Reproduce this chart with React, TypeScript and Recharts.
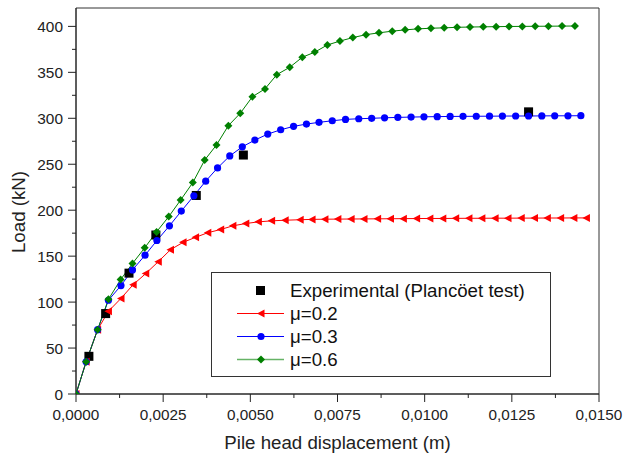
import {
  ComposedChart,
  Label,
  Legend,
  Line,
  ReferenceArea,
  Scatter,
  XAxis,
  YAxis
} from "recharts";

const FONT = "'Liberation Sans', Arial, sans-serif";

// experimental points (Plancoet test)
const expX = [0.00037, 0.00085, 0.00152, 0.00229, 0.00345, 0.0048, 0.01298];
const expY = [41, 87.5, 131.5, 173, 216, 260, 307];

// mu = 0.2
const mu02X = [
  0, 0.00029, 0.00062, 0.00093, 0.00129, 0.00164, 0.002, 0.00236, 0.00271, 0.00307,
  0.00343, 0.00378, 0.00415, 0.0045, 0.00487, 0.00523, 0.00561, 0.006, 0.00643, 0.00677,
  0.00714, 0.00751, 0.00789, 0.00826, 0.00865, 0.00902, 0.00939, 0.00977, 0.01015, 0.01052,
  0.01089, 0.01127, 0.01164, 0.01202, 0.01239, 0.01277, 0.01315, 0.01352, 0.0139, 0.01428,
  0.01464
];
const mu02Y = [
  0, 35, 70, 90, 104, 119, 131, 144, 157, 165,
  170.5, 175.5, 179, 183, 185.5, 187.3, 188.4, 189.1, 189.6, 190,
  190.2, 190.3, 190.4, 190.5, 190.6, 190.7, 190.8, 190.9, 191, 191,
  191.1, 191.2, 191.2, 191.3, 191.3, 191.4, 191.4, 191.5, 191.5, 191.6,
  191.6
];

// mu = 0.3
const mu03X = [
  0, 0.00029, 0.00062, 0.00093, 0.00129, 0.00162, 0.00198, 0.00232, 0.00268, 0.00302,
  0.00338, 0.00372, 0.00406, 0.00441, 0.00477, 0.00513, 0.0055, 0.00587, 0.00624, 0.00661,
  0.00697, 0.00735, 0.00773, 0.00811, 0.00848, 0.00885, 0.00923, 0.00961, 0.00998, 0.01036,
  0.01073, 0.0111, 0.01148, 0.01186, 0.01223, 0.01261, 0.01298, 0.01336, 0.01373, 0.01411,
  0.01448
];
const mu03Y = [
  0, 35, 70, 102, 118, 135, 151, 167, 183, 199,
  215.6, 231.6, 246, 259, 269, 276.3, 282.8, 287.5, 291.2, 293.7,
  295.6, 297.3, 298.8, 299.5, 300, 300.5, 301, 301.3, 301.6, 301.8,
  302, 302.1, 302.2, 302.3, 302.4, 302.5, 302.5, 302.6, 302.7, 302.7,
  302.8
];

// mu = 0.6
const mu06X = [
  0, 0.00029, 0.00062, 0.00093, 0.00128, 0.00162, 0.00197, 0.00231, 0.00266, 0.003,
  0.00335, 0.00369, 0.00403, 0.00437, 0.00471, 0.00506, 0.00542, 0.00576, 0.00613, 0.00649,
  0.00685, 0.00721, 0.00757, 0.00794, 0.00832, 0.00869, 0.00907, 0.00944, 0.00981, 0.01018,
  0.01056, 0.01093, 0.0113, 0.01168, 0.01205, 0.01242, 0.0128, 0.01317, 0.01355, 0.01394,
  0.01431
];
const mu06Y = [
  0, 35, 70, 103, 124.5, 142, 159, 176.4, 193, 211,
  230, 254.5, 271, 292, 305.4, 323.5, 332, 347.5, 355.5, 366.4,
  372, 379.8, 384, 387.8, 391, 393, 394.8, 396.2, 397.3, 398,
  398.4, 399, 399.3, 399.5, 399.7, 399.9, 400, 400.1, 400.2, 400.3,
  400.4
];

const xTicks = [
  0, 0.00125, 0.0025, 0.00375, 0.005, 0.00625, 0.0075, 0.00875, 0.01, 0.01125, 0.0125,
  0.01375, 0.015
];
const yTicks = [
  0, 25, 50, 75, 100, 125, 150, 175, 200, 225, 250, 275, 300, 325, 350, 375, 400
];

const legendNames = ["Experimental (Plancöet test)", "μ=0.2", "μ=0.3", "μ=0.6"];

const zip = (xs: number[], ys: number[]) => xs.map((x, i) => ({ x, y: ys[i] }));

const expData = zip(expX, expY);
const red = zip(mu02X, mu02Y);
const blue = zip(mu03X, mu03Y);
const green = zip(mu06X, mu06Y);

const fmtX = (v: number) => v.toFixed(4).replace(".", ",");

function XTick(props: any) {
  const { x, y, payload } = props;
  const major = Math.round(payload.value / 0.00125) % 2 === 0;
  return (
    <g>
      <line x1={x} y1={y} x2={x} y2={y + (major ? 8 : 4)} stroke="#222" />
      {major && (
        <text x={x} y={y + 26} textAnchor="middle" fontSize={15.3} fill="#222" fontFamily={FONT}>
          {fmtX(payload.value)}
        </text>
      )}
    </g>
  );
}

function YTick(props: any) {
  const { x, y, payload } = props;
  const major = payload.value % 50 === 0;
  return (
    <g>
      <line x1={x} y1={y} x2={x - (major ? 8 : 4)} y2={y} stroke="#222" />
      {major && (
        <text x={x - 13} y={y} dy="0.36em" textAnchor="end" fontSize={15.4} fill="#222" fontFamily={FONT}>
          {payload.value}
        </text>
      )}
    </g>
  );
}

function Tri({ cx, cy, fill }: { cx: number; cy: number; fill: string }) {
  return <polygon points={`${cx - 4},${cy} ${cx + 3.5},${cy - 4} ${cx + 3.5},${cy + 4}`} fill={fill} />;
}

function Diamond({ cx, cy, fill }: { cx: number; cy: number; fill: string }) {
  return <polygon points={`${cx},${cy - 4} ${cx + 4},${cy} ${cx},${cy + 4} ${cx - 4},${cy}`} fill={fill} />;
}

const redDot = (p: any) => <Tri key={p.index} cx={p.cx} cy={p.cy} fill="#ff0000" />;
const blueDot = (p: any) => <circle key={p.index} cx={p.cx} cy={p.cy} r={3.6} fill="#0000ff" />;
const greenDot = (p: any) => <Diamond key={p.index} cx={p.cx} cy={p.cy} fill="#008000" />;
const squareShape = (p: any) => (
  <rect x={p.cx - 4.5} y={p.cy - 4.5} width={9} height={9} fill="#000" />
);

function LegendBox() {
  const icons = [
    <rect x={44} y={7} width={9} height={9} fill="#000" />,
    <g>
      <line x1={25} y1={11.5} x2={72} y2={11.5} stroke="#ff0000" />
      <Tri cx={49} cy={11.5} fill="#ff0000" />
    </g>,
    <g>
      <line x1={25} y1={11.5} x2={72} y2={11.5} stroke="#0000ff" />
      <circle cx={49} cy={11.5} r={3.6} fill="#0000ff" />
    </g>,
    <g>
      <line x1={25} y1={11.5} x2={72} y2={11.5} stroke="#008000" strokeWidth={1.5} strokeOpacity={0.6} />
      <Diamond cx={49} cy={11.5} fill="#008000" />
    </g>
  ];
  return (
    <div
      style={{
        width: 340,
        height: 105,
        boxSizing: "border-box",
        border: "1px solid #333",
        background: "#fff",
        paddingTop: 6,
        fontFamily: FONT,
        fontSize: 18.7,
        color: "#111"
      }}
    >
      {legendNames.map((name, i) => (
        <div key={name} style={{ display: "flex", alignItems: "center", height: 23 }}>
          <svg width={78} height={23} style={{ flex: "none" }}>
            {icons[i]}
          </svg>
          <span style={{ lineHeight: "23px", whiteSpace: "nowrap" }}>{name}</span>
        </div>
      ))}
    </div>
  );
}

export default function App() {
  return (
    <div style={{ position: "absolute", left: 0, top: 0, background: "#fff" }}>
      <ComposedChart
        width={624}
        height={458}
        margin={{ top: 8, right: 25, bottom: 24, left: 16 }}
      >
        <XAxis
          xAxisId="main"
          type="number"
          dataKey="x"
          domain={[0, 0.015]}
          ticks={xTicks}
          interval={0}
          height={40}
          tickSize={0}
          tickMargin={0}
          tickLine={false}
          tick={<XTick />}
          axisLine={{ stroke: "#222" }}
          allowDataOverflow
        >
          <Label
            content={(p: any) => (
              <text
                x={p.viewBox.x + p.viewBox.width / 2}
                y={p.viewBox.y + 55}
                textAnchor="middle"
                fontSize={18.7}
                fill="#222"
                fontFamily={FONT}
              >
                Pile head displacement (m)
              </text>
            )}
          />
        </XAxis>
        <YAxis
          yAxisId="main"
          type="number"
          domain={[0, 420]}
          ticks={yTicks}
          interval={0}
          width={60}
          tickSize={0}
          tickMargin={0}
          tickLine={false}
          tick={<YTick />}
          axisLine={{ stroke: "#222" }}
          allowDataOverflow
        >
          <Label
            content={() => (
              <text
                x={18}
                y={212}
                transform="rotate(-90 18 212)"
                textAnchor="middle"
                dy="0.36em"
                fontSize={18.7}
                fill="#222"
                fontFamily={FONT}
              >
                Load (kN)
              </text>
            )}
          />
        </YAxis>
        {/* plot frame */}
        <ReferenceArea
          xAxisId="main"
          yAxisId="main"
          x1={0}
          x2={0.015}
          y1={0}
          y2={420}
          fill="none"
          fillOpacity={0}
          stroke="#333"
          strokeWidth={1}
          ifOverflow="visible"
        />
        <Legend
          layout="vertical"
          verticalAlign="middle"
          align="center"
          wrapperStyle={{ left: 211, top: 272, width: 340 }}
          content={() => <LegendBox />}
        />
        <Scatter
          xAxisId="main"
          yAxisId="main"
          data={expData}
          dataKey="y"
          shape={squareShape}
          isAnimationActive={false}
        />
        <Line
          xAxisId="main"
          yAxisId="main"
          data={red}
          dataKey="y"
          type="linear"
          stroke="#ff0000"
          strokeWidth={1}
          dot={redDot}
          activeDot={false}
          isAnimationActive={false}
        />
        <Line
          xAxisId="main"
          yAxisId="main"
          data={blue}
          dataKey="y"
          type="linear"
          stroke="#0000ff"
          strokeWidth={1}
          dot={blueDot}
          activeDot={false}
          isAnimationActive={false}
        />
        <Line
          xAxisId="main"
          yAxisId="main"
          data={green}
          dataKey="y"
          type="linear"
          stroke="#008000"
          strokeWidth={1}
          dot={greenDot}
          activeDot={false}
          isAnimationActive={false}
        />
      </ComposedChart>
    </div>
  );
}
